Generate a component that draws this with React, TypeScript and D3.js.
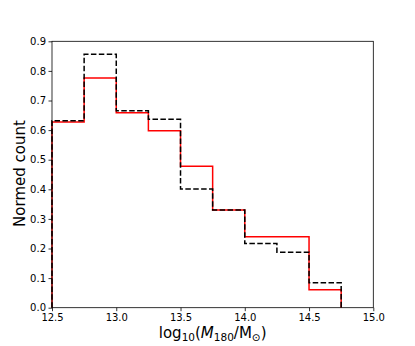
import { useEffect, useRef } from 'react'
import * as d3 from 'd3'

// bin edges of the mass histogram (log10 M180)
const binEdges = [12.5, 12.75, 13.0, 13.25, 13.5, 13.75, 14.0, 14.25, 14.5, 14.75]
// normed counts per bin
const redCounts = [0.627, 0.776, 0.659, 0.598, 0.478, 0.330, 0.240, 0.240, 0.061]
const blackCounts = [0.632, 0.856, 0.665, 0.637, 0.401, 0.330, 0.217, 0.187, 0.084]

const xTicks = [12.5, 13.0, 13.5, 14.0, 14.5, 15.0]
const yTicks = [0, 0.1, 0.2, 0.3, 0.4, 0.5, 0.6, 0.7, 0.8, 0.9]

export default function App() {
  const canvas = useRef<SVGSVGElement | null>(null)

  useEffect(() => {
    drawChart()
  }, [])

  const drawChart = () => {
    const width = 415
    const height = 346
    const margin = { top: 41.3, bottom: 38.3, left: 52, right: 41.7 }

    const svg = d3.select(canvas.current)
    svg.selectAll('*').remove()

    const xScale = d3.scaleLinear()
      .domain([12.5, 15.0])
      .range([margin.left, width - margin.right])
    const yScale = d3.scaleLinear()
      .domain([0, 0.9])
      .range([height - margin.bottom, margin.top])

    const stepLine = d3.line<[number, number]>()
      .x(d => xScale(d[0]))
      .y(d => yScale(d[1]))
      .curve(d3.curveStepAfter)

    const stepPoints = (vals: number[]): [number, number][] => {
      const pts: [number, number][] = [[binEdges[0], 0]]
      vals.forEach((v, i) => pts.push([binEdges[i], v]))
      const last = binEdges[binEdges.length - 1]
      pts.push([last, vals[vals.length - 1]])
      pts.push([last, 0])
      return pts
    }

    svg.append('path')
      .attr('d', stepLine(stepPoints(redCounts)))
      .attr('fill', 'none')
      .attr('stroke', '#ff0000')
      .attr('stroke-width', 1.5)

    svg.append('path')
      .attr('d', stepLine(stepPoints(blackCounts)))
      .attr('fill', 'none')
      .attr('stroke', '#000')
      .attr('stroke-width', 1.5)
      .attr('stroke-dasharray', '5.5,2.4')

    // x axis
    const xAxis = d3.axisBottom(xScale)
      .tickValues(xTicks)
      .tickFormat(d3.format('.1f'))
      .tickSize(3.5)
      .tickPadding(2.5)
    const gx = svg.append('g')
      .attr('transform', `translate(0, ${height - margin.bottom})`)
      .call(xAxis)

    // y axis
    const yAxis = d3.axisLeft(yScale)
      .tickValues(yTicks)
      .tickFormat(d3.format('.1f'))
      .tickSize(3.5)
      .tickPadding(2.5)
    const gy = svg.append('g')
      .attr('transform', `translate(${margin.left}, 0)`)
      .call(yAxis)

    ;[gx, gy].forEach(g => {
      g.select('.domain').remove()
      g.selectAll('line').attr('stroke', '#000').attr('stroke-width', 0.8)
      g.selectAll('text')
        .attr('fill', '#000')
        .style('font-family', 'DejaVu Sans')
        .style('font-size', '10px')
    })

    // frame
    svg.append('rect')
      .attr('x', margin.left)
      .attr('y', margin.top)
      .attr('width', width - margin.left - margin.right)
      .attr('height', height - margin.top - margin.bottom)
      .attr('fill', 'none')
      .attr('stroke', '#000')
      .attr('stroke-width', 0.8)

    // y label
    svg.append('text')
      .attr('transform', `translate(25, ${(margin.top + height - margin.bottom) / 2 - 1}) rotate(-90)`)
      .attr('text-anchor', 'middle')
      .style('font-family', 'DejaVu Sans')
      .style('font-size', '15px')
      .text('Normed count')

    // x label
    const xl = svg.append('text')
      .attr('x', (margin.left + width - margin.right) / 2)
      .attr('y', 338)
      .attr('text-anchor', 'middle')
      .style('font-family', 'DejaVu Sans')
      .style('font-size', '15px')
    xl.append('tspan').text('log')
    xl.append('tspan').attr('dy', 3).style('font-size', '10.5px').text('10')
    xl.append('tspan').attr('dy', -3).text('(')
    xl.append('tspan').style('font-style', 'italic').text('M')
    xl.append('tspan').attr('dy', 3).style('font-size', '10.5px').text('180')
    xl.append('tspan').attr('dy', -3).text('/M')
    xl.append('tspan').attr('dy', 3).style('font-size', '10.5px').text('\u2299')
    xl.append('tspan').attr('dy', -3).text(')')
  }

  return (
    <svg ref={canvas} width={415} height={346}
      style={{ display: 'block', position: 'absolute', left: 0, top: 0, background: '#fff' }} />
  )
}
